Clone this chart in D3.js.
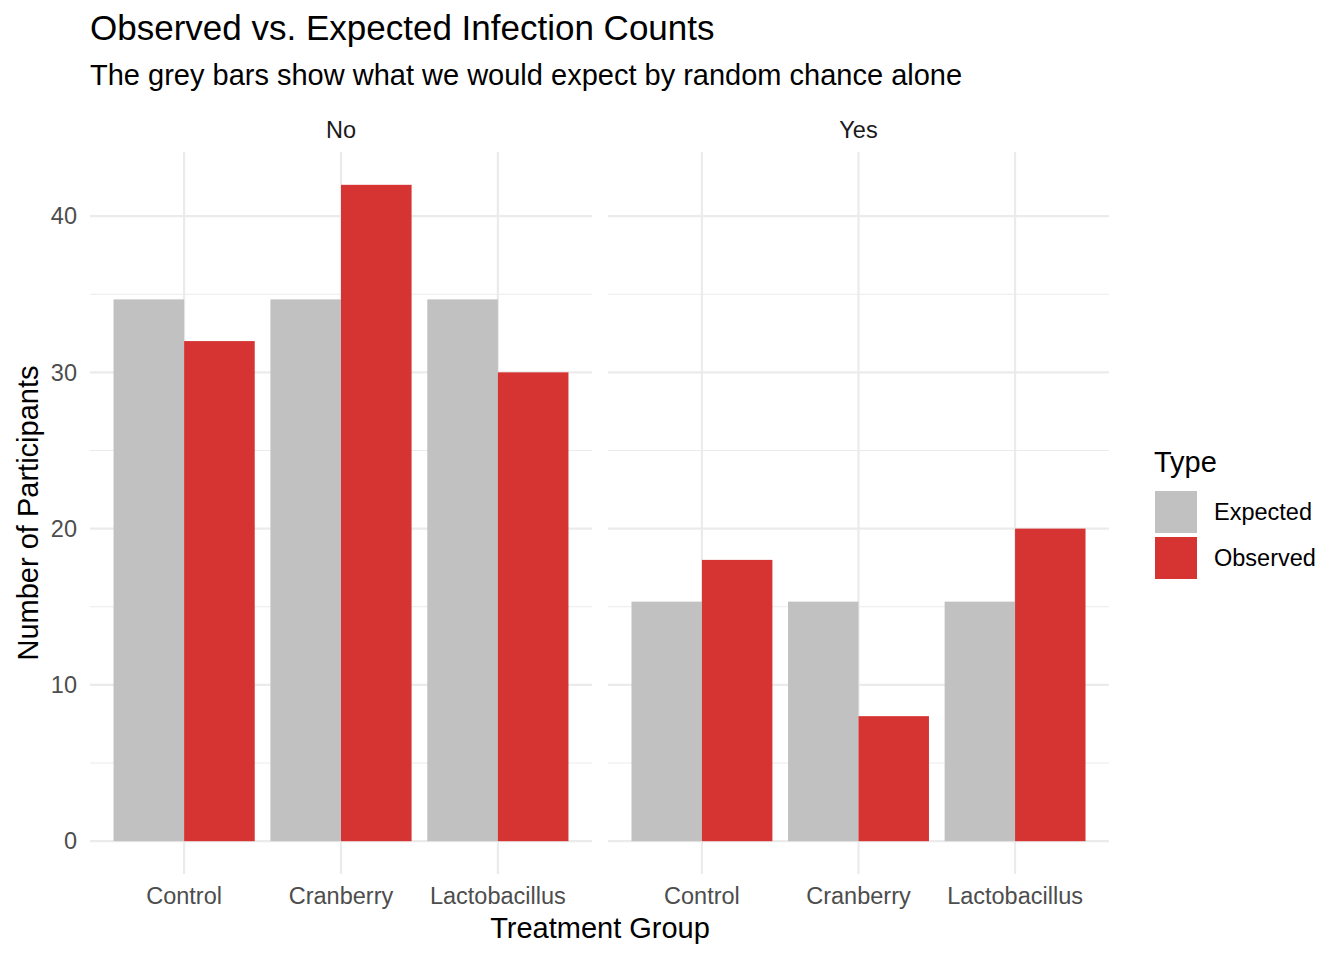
<!DOCTYPE html>
<html>
<head>
<meta charset="utf-8">
<script src="https://cdn.jsdelivr.net/npm/d3@7"></script>
<style>
  body { margin: 0; background: #fff; }
  text { font-family: "Liberation Sans", Arial, sans-serif; }
</style>
</head>
<body>
<div id="chart"></div>
<script>
const panels = ["No", "Yes"];
const groups = ["Control", "Cranberry", "Lactobacillus"];
const types = ["Expected", "Observed"];
const observedNo = [32, 42, 30];
const observedYes = [18, 8, 20];
const expectedNo = [34.67, 34.67, 34.67];
const expectedYes = [15.33, 15.33, 15.33];
const yTicks = [0, 10, 20, 30, 40];
const yMinor = [5, 15, 25, 35];

const colors = { Expected: "#c1c1c1", Observed: "#d63333" };

const W = 1344, H = 960;
const panelX = [[90, 592], [608, 1109]];
const plotTop = 152, plotBottom = 874;

const data = [];
panels.forEach((p, pi) => {
    groups.forEach((g, gi) => {
        data.push({ panel: p, group: g, type: "Expected", value: (pi === 0 ? expectedNo : expectedYes)[gi] });
        data.push({ panel: p, group: g, type: "Observed", value: (pi === 0 ? observedNo : observedYes)[gi] });
    });
});

const svg = d3.select("#chart")
    .append("svg")
    .attr("width", W)
    .attr("height", H);

const yScale = d3.scaleLinear().domain([-2.1, 44.1]).range([plotBottom, plotTop]);

// titles
svg.append("text")
    .attr("x", 90).attr("y", 40)
    .style("font-size", "35px")
    .text("Observed vs. Expected Infection Counts");

svg.append("text")
    .attr("x", 90).attr("y", 85)
    .style("font-size", "29px")
    .text("The grey bars show what we would expect by random chance alone");

panels.forEach((p, pi) => {
    const xScale = d3.scalePoint().domain(groups).range(panelX[pi]).padding(0.6);
    const step = xScale.step();
    const inner = d3.scaleBand().domain(types).range([-0.45 * step, 0.45 * step]);
    const g = svg.append("g");

    // minor grid
    g.selectAll(".minor")
        .data(yMinor)
        .enter().append("line")
        .attr("x1", panelX[pi][0]).attr("x2", panelX[pi][1])
        .attr("y1", d => yScale(d)).attr("y2", d => yScale(d))
        .attr("stroke", "#ebebeb").attr("stroke-width", 1.1);

    // major grid
    g.selectAll(".major")
        .data(yTicks)
        .enter().append("line")
        .attr("x1", panelX[pi][0]).attr("x2", panelX[pi][1])
        .attr("y1", d => yScale(d)).attr("y2", d => yScale(d))
        .attr("stroke", "#ebebeb").attr("stroke-width", 2.2);

    g.selectAll(".vgrid")
        .data(groups)
        .enter().append("line")
        .attr("x1", d => xScale(d)).attr("x2", d => xScale(d))
        .attr("y1", plotTop).attr("y2", plotBottom)
        .attr("stroke", "#ebebeb").attr("stroke-width", 2.2);

    // bars
    g.selectAll("rect")
        .data(data.filter(d => d.panel === p))
        .enter().append("rect")
        .attr("x", d => xScale(d.group) + inner(d.type))
        .attr("width", inner.bandwidth())
        .attr("y", d => yScale(d.value))
        .attr("height", d => yScale(0) - yScale(d.value))
        .attr("fill", d => colors[d.type]);

    // x tick labels
    g.selectAll(".xlab")
        .data(groups)
        .enter().append("text")
        .attr("x", d => xScale(d))
        .attr("y", 904)
        .attr("text-anchor", "middle")
        .style("font-size", "23.5px")
        .attr("fill", "#4d4d4d")
        .text(d => d);

    // strip label
    g.append("text")
        .attr("x", (panelX[pi][0] + panelX[pi][1]) / 2)
        .attr("y", 138)
        .attr("text-anchor", "middle")
        .style("font-size", "23.5px")
        .attr("fill", "#1a1a1a")
        .text(p);
});

// y tick labels
svg.selectAll(".ylab")
    .data(yTicks)
    .enter().append("text")
    .attr("x", 77)
    .attr("y", d => yScale(d) + 8.3)
    .attr("text-anchor", "end")
    .style("font-size", "23.5px")
    .attr("fill", "#4d4d4d")
    .text(d => d);

// axis titles
svg.append("text")
    .attr("x", 600).attr("y", 938)
    .attr("text-anchor", "middle")
    .style("font-size", "29px")
    .text("Treatment Group");

svg.append("text")
    .attr("transform", "translate(38,513) rotate(-90)")
    .attr("text-anchor", "middle")
    .style("font-size", "29px")
    .text("Number of Participants");

// legend
const legend = svg.append("g");
legend.append("text")
    .attr("x", 1154).attr("y", 472)
    .style("font-size", "29px")
    .text("Type");

legend.selectAll("rect")
    .data(types)
    .enter().append("rect")
    .attr("x", 1155)
    .attr("y", (d, i) => 491 + i * 46)
    .attr("width", 42).attr("height", 42)
    .attr("fill", d => colors[d]);

legend.selectAll(".leglab")
    .data(types)
    .enter().append("text")
    .attr("x", 1214)
    .attr("y", (d, i) => 520 + i * 46)
    .style("font-size", "23.5px")
    .text(d => d);
</script>
</body>
</html>
